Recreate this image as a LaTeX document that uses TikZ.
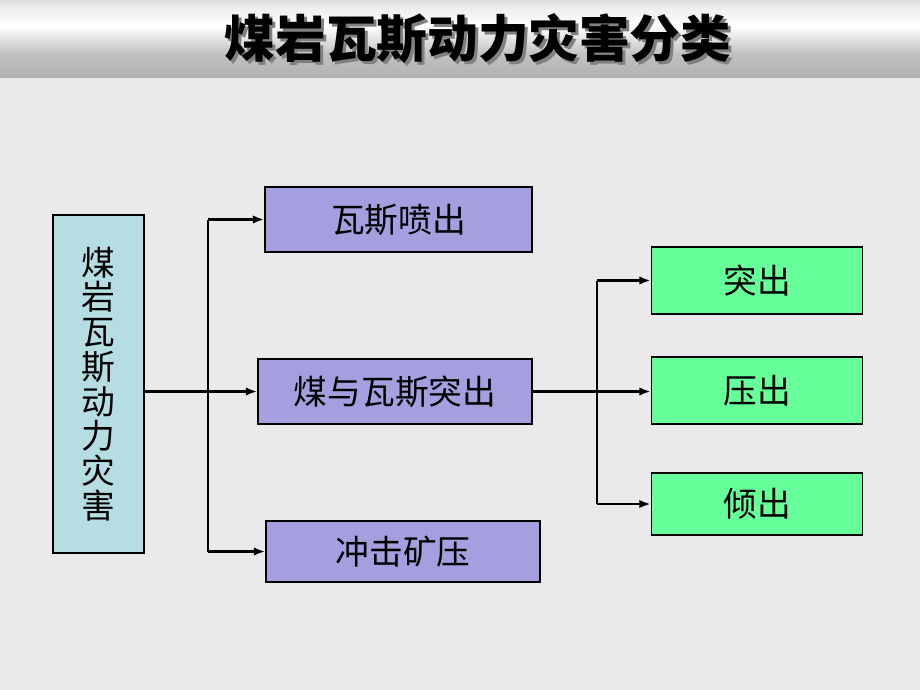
\documentclass[tikz,border=0pt]{standalone}
\usepackage{fontspec}
\newfontfamily\cjk{Noto Sans CJK SC}
\usetikzlibrary{arrows.meta}
\definecolor{bggray}{RGB}{234,234,234}
\definecolor{bartop}{RGB}{138,138,138}
\definecolor{barbot}{RGB}{152,152,152}
\definecolor{boxcyan}{RGB}{182,222,226}
\definecolor{boxpurple}{RGB}{164,160,224}
\definecolor{boxgreen}{RGB}{102,255,153}
\pgfdeclareverticalshading{titlebar}{100bp}{color(0bp)=(barbot); color(40bp)=(barbot!60!white); color(58bp)=(white); color(70bp)=(white!85!bartop); color(100bp)=(bartop)}

\begin{document}
\begin{tikzpicture}[x=0.025cm,y=-0.025cm,
  box/.style={draw=black,line width=1.2pt,inner sep=0pt,font=\cjk\fontsize{24}{24.7}\selectfont},
  purplebox/.style={box,fill=boxpurple,minimum width=6.8cm},
  greenbox/.style={box,fill=boxgreen,minimum width=5.275cm},
  arr/.style={line width=1.6pt,-{Latex[length=8pt,width=6pt]}},
  link/.style={line width=1.6pt}]
\useasboundingbox (0,0) rectangle (920,690);
\fill[bggray] (0,0) rectangle (920,690);
\begin{scope}[x=1cm,y=1cm]
\shade[shading=titlebar] (0,-1.925) rectangle (23,0);
\end{scope}

% title with shadow
\node[text=gray,font=\cjk\bfseries\fontsize{36}{36}\selectfont] (titleshadow) at (481,42) {煤岩瓦斯动力灾害分类};
\node[text=black,font=\cjk\bfseries\fontsize{36}{36}\selectfont] (title) at (478,39) {煤岩瓦斯动力灾害分类};

% boxes
\node[box,fill=boxcyan,align=center,minimum width=2.275cm,minimum height=8.45cm] (root) at (98.5,384) {煤\\岩\\瓦\\斯\\动\\力\\灾\\害};
\node[purplebox,minimum width=6.675cm,minimum height=1.625cm] (gas) at (398.5,219.5) {瓦斯喷出};
\node[purplebox,minimum width=6.85cm,minimum height=1.625cm] (outburst) at (395,391.5) {煤与瓦斯突出};
\node[purplebox,minimum width=6.85cm,minimum height=1.525cm] (rockburst) at (403,551.5) {冲击矿压};
\node[greenbox,minimum height=1.675cm] (tuchu) at (757,280.5) {突出};
\node[greenbox,minimum height=1.675cm] (yachu) at (757,390.5) {压出};
\node[greenbox,minimum height=1.55cm] (qingchu) at (757,504) {倾出};

% connectors
\coordinate (jleft) at (208,0);
\coordinate (jright) at (597,0);
\draw[arr] (root.east |- outburst.west) -- (outburst.west);
\draw[link] (jleft |- gas.west) -- (jleft |- rockburst.west);
\draw[arr] (jleft |- gas.west) -- (gas.west);
\draw[arr] (jleft |- rockburst.west) -- (rockburst.west);

\draw[arr] (outburst.east) -- (yachu.west |- outburst.east);
\draw[line width=0.9pt] (jright |- tuchu.west) -- (jright |- qingchu.west);
\draw[arr] (jright |- tuchu.west) -- (tuchu.west);
\draw[arr] (jright |- qingchu.west) -- (qingchu.west);

\end{tikzpicture}
\end{document}
